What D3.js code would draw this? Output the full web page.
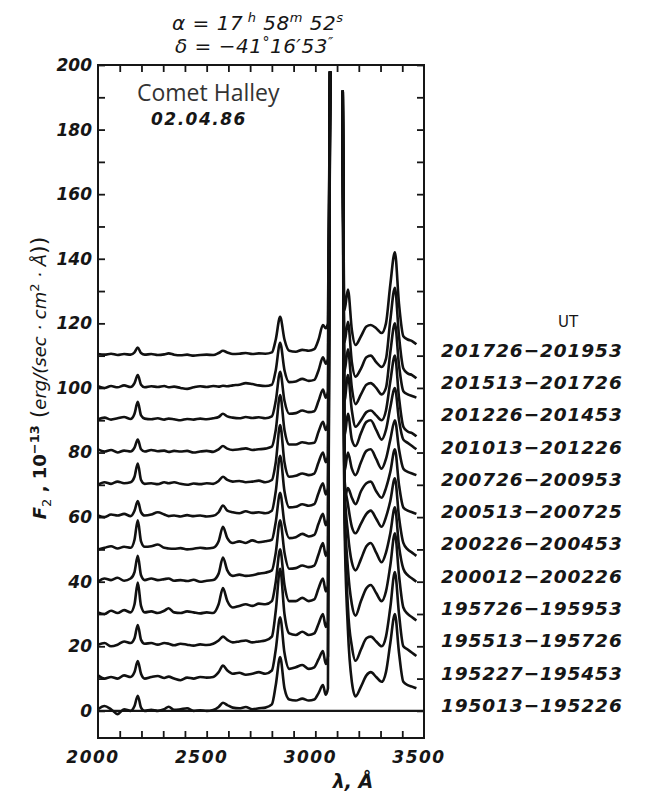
<!DOCTYPE html>
<html>
<head>
<meta charset="utf-8">
<script src="https://cdn.jsdelivr.net/npm/d3@7"></script>
<style>
body { margin: 0; background: #fff; }
svg { display: block; background: #fff; }
.axis text { font-family: "DejaVu Sans", sans-serif; font-style: oblique; font-weight: bold; font-size: 17px; fill: #161616; }
.axis path { display: none; }
.axis line { stroke: #161616; stroke-width: 1.8; }
.ut { font-family: "DejaVu Sans", sans-serif; font-style: oblique; font-weight: bold; font-size: 18.5px; fill: #161616; }
</style>
</head>
<body>
<svg id="chart" width="655" height="797"></svg>
<script>
// wavelength grid in Angstrom (3100 is the gap where the OH band runs off scale)
const wavelengths = [2000, 2030, 2060, 2090, 2120, 2150, 2168, 2183, 2198, 2215,
    2245, 2275, 2305, 2325, 2350, 2380, 2410, 2440, 2470, 2500,
    2530, 2555, 2575, 2595, 2620, 2650, 2680, 2710, 2740, 2770,
    2800, 2818, 2838, 2858, 2880, 2910, 2940, 2970, 2995, 3015,
    3035, 3048, 3058, 3068, 3100, 3126, 3134, 3150, 3168, 3185,
    3210, 3235, 3255, 3280, 3305, 3325, 3345, 3366, 3385, 3405,
    3425, 3445, 3465];

// vertical shift of each spectrum, bottom to top
const offsets = [0, 10, 20, 30, 40, 50, 60, 70, 80, 90, 100, 110];

const utLabels = ["195013\u2212195226", "195227\u2212195453", "195513\u2212195726",
    "195726\u2212195953", "200012\u2212200226", "200226\u2212200453",
    "200513\u2212200725", "200726\u2212200953", "201013\u2212201226",
    "201226\u2212201453", "201513\u2212201726", "201726\u2212201953"];

const yTickLabels = [0, 20, 40, 60, 80, 100, 120, 140, 160, 180, 200];
const xTickLabels = [2000, 2500, 3000, 3500];

// flux above each spectrum's own offset
const f195013 = [0.5, 1.5, 0.5, -1, 0.5, 0, 1.5, 4.7, 1, 0,
    0.3, 0, 0.5, 1.3, 0.3, 0.5, 0.8, 0, 0.2, 0,
    0.3, 1.2, 2.5, 1.8, 1, 0.8, 1.2, 0.5, 0.8, 1,
    2, 8, 16.7, 7, 3.5, 3.2, 3.8, 3.2, 3.5, 5.5,
    8, 5, 7, 198, null, 192, 60, 25, 9, 4.5,
    7.5, 11, 12, 10.5, 9, 12, 21, 30, 18, 9,
    8, 7.5, 7];
const f195227 = [1, 0, 0.5, 0, 1, 0.5, 2, 5.4, 1.5, 0,
    0.5, 0.8, 0.2, 0.6, 0, -0.5, 0.3, 0, 0.5, 0.3,
    0.5, 2, 4, 2.5, 1.5, 1.8, 1.2, 1.5, 2, 1.5,
    2.5, 9, 19, 8, 3, 3.5, 4.2, 3, 3.5, 6,
    8.5, 4.5, 7, 188, null, 182, 55, 22, 10, 5.5,
    9, 12.5, 13, 11.5, 10, 13, 22, 33, 20, 10,
    9, 8, 7];
const f195513 = [0.5, 1, 0, 0.5, 1.5, 1, 2.5, 6.6, 2, 0.8,
    1, 0.5, 1, 0.8, 0.3, 0.8, 0.5, 0.2, 0.6, 0.4,
    0.8, 1.8, 3, 2, 1.2, 1.5, 1.8, 1.2, 1.5, 1.8,
    3, 11, 24, 10, 4, 3.5, 4.5, 3.5, 4, 7,
    10, 6, 8, 178, null, 172, 45, 24, 13, 9.5,
    14, 18, 19, 16.5, 14, 17, 25, 35, 22, 12,
    10, 9, 8];
const f195726 = [0.5, 0, 1, 0.3, 1.2, 0.5, 3, 9.7, 2.5, 0.5,
    0.8, 0.3, 1, 1.8, 0.5, 0.3, 0.8, 0.5, 0.2, 0.5,
    0.3, 3, 8, 4, 2, 2.5, 3, 2.5, 3.2, 3,
    4, 10, 20, 9, 4, 4, 5, 4, 4.5, 8,
    11, 7, 9, 168, null, 162, 40, 25, 16, 13.5,
    17, 21, 22, 19, 16, 19, 25, 33, 21, 14,
    12, 11, 10];
const f200012 = [0, 1, 0.5, 1.2, 0.3, 1, 3, 8, 2, 0.5,
    1, 0.5, 0.8, 1, 0.3, 0.5, 0.2, 0.6, 0, 0.3,
    0.5, 2.5, 7.5, 3.5, 1.8, 2.2, 1.8, 2, 2.5, 2.8,
    3.5, 9, 19, 9, 4, 4.2, 5, 4.5, 5, 8.5,
    12, 8, 10, 158, null, 152, 32, 24, 17, 15,
    18, 21, 22, 19.5, 17, 20, 25, 32, 20, 12,
    10, 9, 8];
const f200226 = [0, 0.5, 1, 0.3, 0.8, 0.5, 3, 9, 2.5, 0.8,
    1, 1.5, 0.5, 0.3, 0.2, 0.4, 0, 0.2, 0.5, 0.3,
    0.5, 2.5, 7, 3.5, 2, 2.5, 2, 2.8, 2.2, 2.5,
    3, 8.5, 17.5, 8, 3.5, 3.8, 4.8, 4, 4.5, 8,
    11, 7.5, 9.5, 148, null, 142, 16, 19, 16, 14,
    18, 20.5, 21, 18, 16, 19, 24, 31, 20, 13,
    12, 11.5, 11];
const f200513 = [0.5, 0, 0.8, 0.5, 1, 0.3, 2, 5, 1.5, 0.5,
    0.8, 1.5, 0.8, 0.3, 0.5, 0.2, 0.6, 0.3, 0.5, 0.2,
    0.4, 1.5, 3.6, 2, 1.5, 1.2, 1.8, 1.3, 1.5, 1.2,
    2, 8, 19, 8, 3, 3.2, 4, 3.5, 4, 7.5,
    10.5, 7, 9, 138, null, 132, 14, 20, 15, 13,
    17, 20.5, 21, 18, 15, 18, 24, 30, 21, 15,
    14, 13.5, 13];
const f200726 = [0, 0.8, 0.3, 1, 0.5, 0.8, 2.5, 6.6, 1.5, 0.3,
    0.5, 0.2, 0.8, 0.5, 0.8, 0.3, 0, 0.4, 0.2, 0.5,
    0.3, 1.2, 2.5, 1.5, 1, 1.2, 0.8, 1, 1.3, 0.8,
    1.5, 7, 18.5, 7, 2.5, 2.8, 3.5, 3, 3.5, 7,
    10, 7, 9, 128, null, 122, 15, 22, 14, 12,
    16, 19.5, 20, 17, 14, 17, 24, 30, 20, 14,
    13, 12, 11];
const f201013 = [1, 0.3, 0.8, 0, 0.6, 0.3, 1.5, 4, 1, 0.3,
    0.8, 0.4, 0.6, 0.2, 0.5, 0.3, 0.5, 0, 0.3, 0.5,
    0.2, 1, 2, 1.2, 0.8, 1, 1.3, 0.8, 1, 1.2,
    1.8, 7, 17.8, 7, 2.5, 2.5, 3.2, 2.8, 3, 6.5,
    9.5, 7, 9, 118, null, 112, 16, 24, 13, 8,
    10, 12.5, 13, 11.5, 10, 13, 22, 30, 17, 8,
    6.5, 6, 5];
const f201226 = [0.3, 0.8, 0.2, 0.6, 1, 0.4, 2, 5.7, 1.5, 0.5,
    0.3, 0.6, 0.2, 0.5, 0.3, 0, 0.4, 0.2, 0.5, 0.3,
    0.6, 1, 2, 1.2, 0.8, 0.6, 1, 0.7, 0.9, 0.6,
    1.2, 6, 15, 6, 2, 2.2, 3, 2.5, 2.8, 6,
    9.5, 7, 9, 108, null, 102, 15, 22, 10, 5,
    8, 11, 11.5, 10, 8, 10, 21, 30, 17, 9,
    8, 7.5, 7];
const f201513 = [0.5, 0, 0.6, 0.2, 0.8, 0.3, 1.5, 4, 1, 0.2,
    0.5, 0.3, 0.6, 0.2, 0.4, 0, -0.3, 0.2, 0.5, 0.3,
    0.6, 0.4, 0.7, 0.5, 0.8, 1, 1.5, 1.2, 0.8, 0.6,
    1, 5.5, 14, 5.5, 1.8, 2, 2.8, 2.2, 2.5, 5.5,
    9.5, 7.5, 9, 98, null, 92, 14, 20.5, 8, 3.5,
    6, 9.5, 10, 8, 6.5, 9, 21, 31, 16, 6,
    4.5, 4, 3];
const f201726 = [0.5, 0.3, 0.6, 0.2, 0.5, 0.3, 1, 2.5, 0.8, 0.3,
    0.5, 0.2, 0.4, 0.7, 0.3, 0.1, 0.3, 0, 0.2, 0.3,
    0.2, 0.8, 1.5, 1, 0.5, 0.6, 0.8, 0.5, 0.7, 0.6,
    1, 5, 12, 5, 1.5, 1.2, 1.8, 1.5, 2, 5,
    9.5, 8.5, 10, 88, null, 82, 14, 20.5, 8, 3.3,
    6, 9, 9.5, 8.5, 7, 10, 22, 32, 16, 6,
    5, 4.5, 3.5];

const spectra = [f195013, f195227, f195513, f195726, f200012, f200226,
    f200513, f200726, f201013, f201226, f201513, f201726];

const svg = d3.select("#chart");
const plot = { left: 98, right: 424, top: 65, bottom: 738 };

const x = d3.scaleLinear().domain([2000, 3500]).range([plot.left, plot.right]);
const y = d3.scaleLinear().domain([-8.4, 200]).range([plot.bottom, plot.top]);

// ticks on all four sides, pointing inwards
svg.append("g").attr("class", "axis")
    .attr("transform", "translate(" + plot.left + ",0)")
    .call(d3.axisLeft(y).tickValues(d3.range(0, 201, 10)).tickSize(-7).tickPadding(6)
        .tickFormat(function (d) { return yTickLabels.indexOf(d) >= 0 ? d : ""; }));

svg.append("g").attr("class", "axis")
    .attr("transform", "translate(" + plot.right + ",0)")
    .call(d3.axisRight(y).tickValues(d3.range(0, 201, 10)).tickSize(-7).tickFormat(""));

svg.append("g").attr("class", "axis")
    .attr("transform", "translate(0," + plot.top + ")")
    .call(d3.axisTop(x).tickValues(d3.range(2100, 3500, 100)).tickSize(-7).tickFormat(""));

svg.append("g").attr("class", "axis")
    .attr("transform", "translate(0," + plot.bottom + ")")
    .call(d3.axisBottom(x).tickValues(d3.range(2100, 3500, 100)).tickSize(-7).tickFormat(""));

svg.append("g").attr("class", "axis")
    .selectAll("text")
    .data(xTickLabels)
    .enter()
    .append("text")
    .attr("x", function (d) { return x(d) - 5; })
    .attr("y", plot.bottom + 25)
    .attr("text-anchor", "middle")
    .style("letter-spacing", "1.5px")
    .text(function (d) { return d; });

// frame
svg.append("rect")
    .attr("x", plot.left).attr("y", plot.top)
    .attr("width", plot.right - plot.left).attr("height", plot.bottom - plot.top)
    .attr("fill", "none").attr("stroke", "#161616").attr("stroke-width", 2);

// zero line
svg.append("line")
    .attr("x1", plot.left).attr("x2", plot.right)
    .attr("y1", y(0)).attr("y2", y(0))
    .attr("stroke", "#161616").attr("stroke-width", 2.2);

// spectra
const line = d3.line()
    .defined(function (d) { return d[1] !== null; })
    .x(function (d) { return x(d[0]); })
    .y(function (d) { return y(d[1]); })
    .curve(d3.curveMonotoneX);

svg.append("g")
    .selectAll("path")
    .data(spectra)
    .enter()
    .append("path")
    .attr("d", function (s, i) {
        let pts = wavelengths.map(function (w, j) {
            return [w, s[j] === null ? null : s[j] + offsets[i]];
        });
        return line(pts);
    })
    .attr("fill", "none")
    .attr("stroke", "#111")
    .attr("stroke-width", 2.6)
    .attr("stroke-linejoin", "round");

// UT labels on the right
svg.append("text")
    .attr("x", 568).attr("y", 327)
    .attr("text-anchor", "middle")
    .style("font-family", "'DejaVu Sans', sans-serif")
    .style("font-size", "15px")
    .style("fill", "#161616")
    .text("UT");

svg.append("g")
    .selectAll("text")
    .data(utLabels)
    .enter()
    .append("text")
    .attr("class", "ut")
    .attr("x", 441)
    .attr("y", function (d, i) { return y(offsets[i]) + 1; })
    .style("letter-spacing", "0.9px")
    .text(function (d) { return d; });

// header: coordinates
let t1 = svg.append("text")
    .attr("x", 172).attr("y", 30)
    .style("font-family", "'DejaVu Sans', sans-serif")
    .style("font-style", "oblique")
    .style("font-size", "20px")
    .style("letter-spacing", "0.5px")
    .style("fill", "#161616");
t1.append("tspan").text("\u03b1 = 17");
t1.append("tspan").attr("dy", -8).style("font-size", "13px").text(" h");
t1.append("tspan").attr("dy", 8).text(" 58");
t1.append("tspan").attr("dy", -8).style("font-size", "13px").text("m");
t1.append("tspan").attr("dy", 8).text(" 52");
t1.append("tspan").attr("dy", -8).style("font-size", "13px").text("s");

let t2 = svg.append("text")
    .attr("x", 175).attr("y", 53)
    .style("font-family", "'DejaVu Sans', sans-serif")
    .style("font-style", "oblique")
    .style("font-size", "20px")
    .style("letter-spacing", "0.5px")
    .style("fill", "#161616");
t2.append("tspan").text("\u03b4 = \u221241");
t2.append("tspan").attr("dy", -6).style("font-size", "14px").text("\u00b0");
t2.append("tspan").attr("dy", 6).text("16\u203253");
t2.append("tspan").attr("dy", -6).style("font-size", "14px").text("\u2033");

// inside title
svg.append("text")
    .attr("x", 137).attr("y", 101)
    .style("font-family", "'Open Sans', sans-serif")
    .style("font-size", "23px")
    .style("fill", "#333")
    .text("Comet Halley");

svg.append("text")
    .attr("x", 151).attr("y", 125)
    .style("font-family", "'DejaVu Sans', sans-serif")
    .style("font-style", "oblique")
    .style("font-weight", "bold")
    .style("font-size", "17px")
    .style("letter-spacing", "1.5px")
    .style("fill", "#161616")
    .text("02.04.86");

// x axis title
svg.append("text")
    .attr("x", 353).attr("y", 788)
    .attr("text-anchor", "middle")
    .style("font-family", "'DejaVu Sans', sans-serif")
    .style("font-style", "oblique")
    .style("font-weight", "bold")
    .style("font-size", "19px")
    .style("fill", "#161616")
    .text("\u03bb, \u00c5");

// y axis title
let yt = svg.append("text")
    .attr("transform", "translate(46,378) rotate(-90)")
    .attr("text-anchor", "middle")
    .style("font-family", "'DejaVu Sans', sans-serif")
    .style("font-size", "18px")
    .style("fill", "#161616");
yt.append("tspan").style("font-style", "oblique").style("font-weight", "bold").text("F");
yt.append("tspan").attr("dy", 5).style("font-size", "13px").text("2");
yt.append("tspan").attr("dy", -5).style("font-weight", "bold").text(" ,  10");
yt.append("tspan").attr("dy", -7).style("font-size", "13px").style("font-weight", "bold").text("\u221213");
yt.append("tspan").attr("dy", 7).style("font-size", "22px").text(" (");
yt.append("tspan").style("font-style", "oblique").text("erg/(sec \u00b7 cm");
yt.append("tspan").attr("dy", -7).style("font-size", "13px").text("2");
yt.append("tspan").attr("dy", 7).style("font-style", "oblique").text(" \u00b7 \u00c5");
yt.append("tspan").style("font-size", "22px").text("))");
</script>
</body>
</html>
